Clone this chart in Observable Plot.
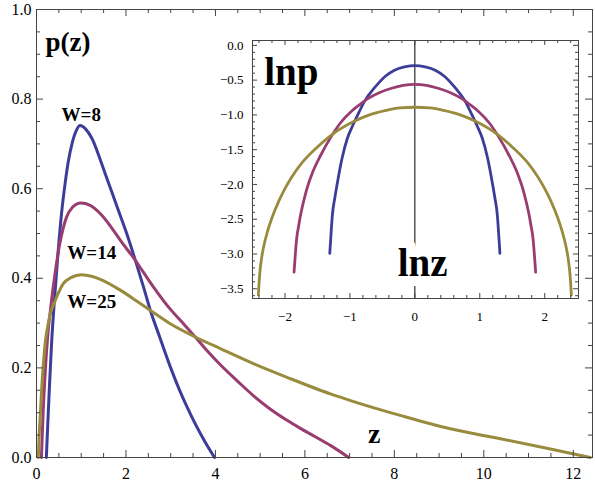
<!DOCTYPE html>
<html><head><meta charset="utf-8">
<script src="https://cdn.jsdelivr.net/npm/d3@7"></script>
<script src="https://cdn.jsdelivr.net/npm/@observablehq/plot@0.6"></script>
<style>
body{margin:0;background:#fff;}
#wrap{position:relative;width:595px;height:487px;overflow:hidden;font-family:"Liberation Serif",serif;}
#main{position:absolute;left:0;top:0;}
#inset{position:absolute;left:200px;top:30px;}
svg text{font-family:"Liberation Serif","Times New Roman",serif !important;}
</style></head>
<body><div id="wrap"><div id="main"></div><div id="inset"></div></div>
<script>
// ---------- data ----------
const names = ["W=8", "W=14", "W=25"];
const colors = ["#3d3d99", "#993d71", "#998b3d"];

// main panel: p(z)
const zW8  = [0.22,0.25,0.29,0.34,0.40,0.48,0.56,0.64,0.71,0.80,0.90,0.97,1.10,1.25,1.40,1.53,1.70,1.88,2.05,2.21,2.40,2.55,2.75,3.00,3.20,3.37,3.55,3.75,3.98];
const pW8  = [0,0.07,0.16,0.26,0.35,0.455,0.545,0.612,0.66,0.703,0.732,0.741,0.733,0.71,0.672,0.635,0.588,0.538,0.49,0.44,0.378,0.327,0.27,0.20,0.15,0.112,0.075,0.038,0];

const zW14 = [0.11,0.15,0.20,0.25,0.31,0.40,0.52,0.67,0.80,0.99,1.20,1.45,1.70,1.88,2.16,2.40,2.62,3.00,3.30,3.55,3.80,4.11,4.50,4.86,5.20,5.60,5.90,6.20,6.57,6.98];
const pW14 = [0,0.105,0.20,0.27,0.328,0.40,0.477,0.536,0.558,0.568,0.563,0.542,0.51,0.484,0.447,0.412,0.38,0.33,0.297,0.269,0.24,0.207,0.17,0.137,0.11,0.083,0.065,0.048,0.027,0];

const zW25 = [0.04,0.06,0.09,0.12,0.16,0.20,0.26,0.32,0.39,0.48,0.60,0.78,1.00,1.25,1.49,1.88,2.23,2.55,3.00,3.55,4.11,4.86,5.60,6.57,7.02,8.13,9.25,10.37,11.49,12.38];
const pW25 = [0,0.05,0.105,0.16,0.216,0.26,0.298,0.325,0.343,0.365,0.388,0.402,0.408,0.404,0.395,0.373,0.35,0.328,0.298,0.269,0.243,0.209,0.179,0.142,0.127,0.094,0.064,0.042,0.019,0];

// inset: ln p versus ln z
const uW8  = [-1.31,-1.29,-1.27,-1.23,-1.19,-1.12,-1.04,-0.96,-0.88,-0.76,-0.63,-0.45,-0.32,-0.16,0,0.16,0.32,0.45,0.63,0.76,0.88,0.96,1.04,1.12,1.19,1.23,1.27,1.29,1.31];
const vW8  = [-2.99,-2.70,-2.44,-2.18,-1.96,-1.62,-1.34,-1.16,-1.00,-0.78,-0.62,-0.44,-0.36,-0.31,-0.29,-0.31,-0.36,-0.44,-0.62,-0.78,-1.00,-1.16,-1.34,-1.62,-1.96,-2.18,-2.44,-2.70,-2.99];

const uW14 = [-1.86,-1.84,-1.82,-1.79,-1.76,-1.68,-1.58,-1.45,-1.30,-1.15,-0.98,-0.86,-0.73,-0.55,-0.37,-0.18,0,0.18,0.37,0.55,0.73,0.86,0.98,1.15,1.30,1.45,1.58,1.68,1.76,1.79,1.82,1.84,1.86];
const vW14 = [-3.26,-3.00,-2.78,-2.60,-2.44,-2.12,-1.84,-1.58,-1.33,-1.12,-0.95,-0.86,-0.77,-0.68,-0.62,-0.575,-0.56,-0.575,-0.62,-0.68,-0.77,-0.86,-0.95,-1.12,-1.33,-1.58,-1.84,-2.12,-2.44,-2.60,-2.78,-3.00,-3.26];

const uW25 = [-2.41,-2.39,-2.36,-2.32,-2.27,-2.20,-2.09,-2.00,-1.90,-1.74,-1.50,-1.30,-0.95,-0.70,-0.46,-0.23,0,0.23,0.46,0.70,0.95,1.30,1.50,1.74,1.90,2.00,2.09,2.20,2.27,2.32,2.36,2.39,2.41];
const vW25 = [-3.59,-3.30,-3.06,-2.86,-2.68,-2.48,-2.23,-2.06,-1.90,-1.69,-1.46,-1.30,-1.10,-1.00,-0.94,-0.90,-0.89,-0.90,-0.94,-1.00,-1.10,-1.30,-1.46,-1.69,-1.90,-2.06,-2.23,-2.48,-2.68,-2.86,-3.06,-3.30,-3.59];

// tick values
const xMajor = [0,2,4,6,8,10,12];
const yMajor = [0,0.2,0.4,0.6,0.8,1.0];
const ixMajor = [-2,-1,0,1,2];
const iyMajor = [0,-0.5,-1,-1.5,-2,-2.5,-3,-3.5];

// ---------- build tables ----------
const table = (name, xs, ys) => xs.map((x, i) => ({W: name, x, y: ys[i]}));
const mainData = [...table(names[0], zW8, pW8), ...table(names[1], zW14, pW14), ...table(names[2], zW25, pW25)];
const insetData = [...table(names[0], uW8, vW8), ...table(names[1], uW14, vW14), ...table(names[2], uW25, vW25)];

const xMinor = d3.range(0.5, 12.01, 0.5).filter(v => Math.abs(v/2 - Math.round(v/2)) > 1e-6);
const yMinor = d3.range(1, 20).map(i => i*0.05).filter(v => Math.abs(v/0.2 - Math.round(v/0.2)) > 1e-6);
const ixMinor = d3.range(-12, 13).map(i => i*0.2).filter(v => Math.abs(v - Math.round(v)) > 1e-6);
const iyMinor = d3.range(-36, 1).map(i => i*0.1).filter(v => Math.abs(v/0.5 - Math.round(v/0.5)) > 1e-6);

const FONT = "'Liberation Serif', 'Times New Roman', serif";
const frameColor = "#444";

function frameTicks(xs, ys, pw, ph, len, width) {
  return [
    Plot.ruleX(xs, {stroke: frameColor, strokeWidth: width, insetTop: ph - len}),
    Plot.ruleX(xs, {stroke: frameColor, strokeWidth: width, insetBottom: ph - len}),
    Plot.ruleY(ys, {stroke: frameColor, strokeWidth: width, insetRight: pw - len}),
    Plot.ruleY(ys, {stroke: frameColor, strokeWidth: width, insetLeft: pw - len})
  ];
}

// ---------- main chart ----------
{
  const W = 595, H = 487, mL = 36, mR = 3, mT = 9, mB = 30;
  const pw = W - mL - mR, ph = H - mT - mB;
  const chart = Plot.plot({
    width: W, height: H, marginLeft: mL, marginRight: mR, marginTop: mT, marginBottom: mB,
    style: {fontFamily: FONT, fontSize: "16px", background: "white", color: "#000", overflow: "visible"},
    x: {domain: [0, 12.43]},
    y: {domain: [0, 1]},
    color: {domain: names, range: colors},
    marks: [
      Plot.line(mainData, {x: "x", y: "y", z: "W", stroke: "W", strokeWidth: 3, curve: "monotone-x"}),
      ...frameTicks(xMajor, yMajor, pw, ph, 7, 1),
      ...frameTicks(xMinor, yMinor, pw, ph, 4, 1),
      Plot.frame({stroke: frameColor, strokeWidth: 1}),
      Plot.axisX(xMajor, {label: null, tickSize: 0, tickPadding: 10, fontSize: 16, fontFamily: FONT, tickFormat: d3.format("d")}),
      Plot.axisY(yMajor, {label: null, tickSize: 0, tickPadding: 5, fontSize: 16, fontFamily: FONT, tickFormat: d3.format(".1f")}),
      Plot.text(["p(z)"], {x: () => 0.2, y: () => 0.908, text: d => d, textAnchor: "start", lineAnchor: "bottom", fontWeight: "bold", fontSize: 27, fill: "#000"}),
      Plot.text([names[0]], {x: () => 1.0, y: () => 0.752, text: d => d, textAnchor: "middle", lineAnchor: "bottom", fontWeight: "bold", fontSize: 19, fill: "#000"}),
      Plot.text([names[1]], {x: () => 0.69, y: () => 0.442, text: d => d, textAnchor: "start", lineAnchor: "bottom", fontWeight: "bold", fontSize: 19, fill: "#000"}),
      Plot.text([names[2]], {x: () => 0.69, y: () => 0.333, text: d => d, textAnchor: "start", lineAnchor: "bottom", fontWeight: "bold", fontSize: 19, fill: "#000"}),
      Plot.text(["z"], {x: () => 7.55, y: () => 0.033, text: d => d, textAnchor: "middle", lineAnchor: "bottom", fontWeight: "bold", fontSize: 28, fill: "#000"})
    ]
  });
  document.getElementById("main").appendChild(chart);
}

// ---------- inset chart ----------
{
  const W = 385, H = 290, mL = 52, mR = 7, mT = 10, mB = 22;
  const pw = W - mL - mR, ph = H - mT - mB;
  const chart = Plot.plot({
    width: W, height: H, marginLeft: mL, marginRight: mR, marginTop: mT, marginBottom: mB,
    style: {fontFamily: FONT, fontSize: "13px", background: "white", color: "#000", overflow: "visible"},
    x: {domain: [-2.5, 2.52]},
    y: {domain: [-3.64, 0.07]},
    color: {domain: names, range: colors},
    marks: [
      Plot.ruleX([0], {stroke: "#000", strokeWidth: 1}),
      Plot.line(insetData, {x: "x", y: "y", z: "W", stroke: "W", strokeWidth: 2.8, curve: "monotone-x"}),
      Plot.text(["lnz"], {x: () => 0.12, y: () => -3.31, text: d => d, textAnchor: "middle", lineAnchor: "bottom", fontWeight: "bold", fontSize: 39, fill: "#000", stroke: "white", strokeWidth: 20}),
      Plot.text(["lnp"], {x: () => -2.32, y: () => -0.576, text: d => d, textAnchor: "start", lineAnchor: "bottom", fontWeight: "bold", fontSize: 39, fill: "#000"}),
      ...frameTicks(ixMajor, iyMajor, pw, ph, 5, 1),
      ...frameTicks(ixMinor, iyMinor, pw, ph, 3, 1),
      Plot.frame({stroke: frameColor, strokeWidth: 1}),
      Plot.axisX(ixMajor, {label: null, tickSize: 0, tickPadding: 13, fontSize: 13, fontFamily: FONT, tickFormat: d3.format("d")}),
      Plot.axisY(iyMajor, {label: null, tickSize: 0, tickPadding: 9, fontSize: 13, fontFamily: FONT, tickFormat: d3.format(".1f")})
    ]
  });
  document.getElementById("inset").appendChild(chart);
}
</script>
</body></html>
